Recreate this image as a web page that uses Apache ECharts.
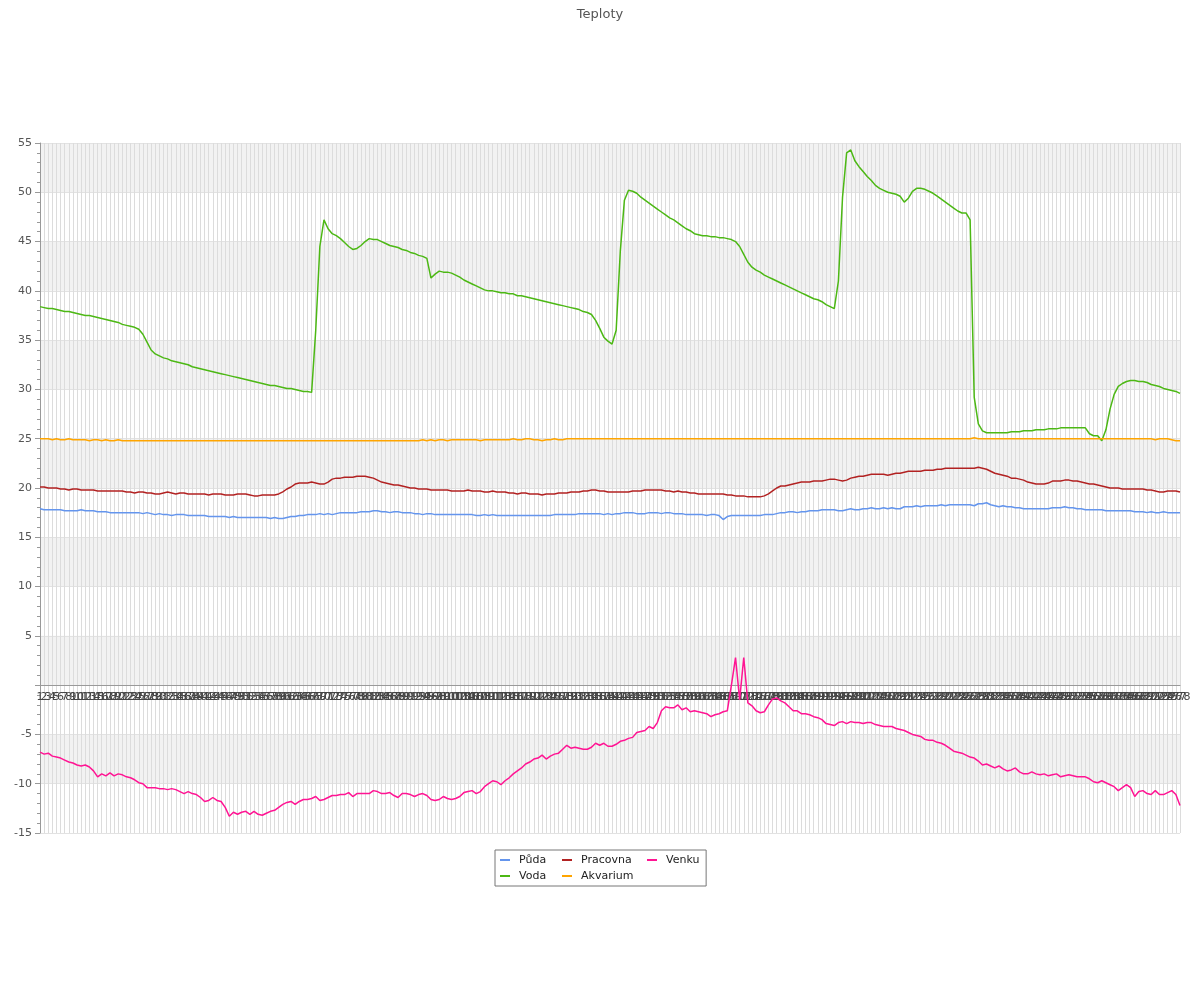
<!DOCTYPE html>
<html>
<head>
<meta charset="utf-8">
<script src="https://cdn.jsdelivr.net/npm/echarts@6/dist/echarts.min.js"></script>
<style>html,body{margin:0;padding:0;background:#fff}#c{width:1200px;height:1000px}</style>
</head>
<body>
<div id="c"></div>
<script>
const seriesNames = ['Půda', 'Voda', 'Pracovna', 'Akvarium', 'Venku'];
const seriesColors = ['#6495ED', '#4CB814', '#B22222', '#FFA500', '#FF1493'];

const puda = [
17.9,17.8,17.8,17.8,17.8,17.8, 17.7,17.7,17.7,17.7,17.8,17.7, 17.7,17.7,17.6,17.6,17.6,17.5,
17.5,17.5,17.5,17.5,17.5,17.5,17.5, 17.4,17.5,17.4,17.3,17.4,17.3, 17.3,17.2,17.3,17.3,17.3,17.2,
17.2,17.2,17.2,17.2,17.1,17.1, 17.1,17.1,17.1,17.0,17.1,17.0, 17.0,17.0,17.0,17.0,17.0,17.0,
17.0,16.9,17.0,16.9,16.9,17.0, 17.1,17.1,17.2,17.2,17.3,17.3, 17.3,17.4,17.3,17.4,17.3,17.4,
17.5,17.5,17.5,17.5,17.5,17.6, 17.6,17.6,17.7,17.7,17.6,17.6, 17.5,17.6,17.6,17.5,17.5,17.5,
17.4,17.4,17.3,17.4,17.4,17.3, 17.3,17.3,17.3,17.3,17.3,17.3, 17.3,17.3,17.3,17.2,17.2,17.3,
17.2,17.3,17.2,17.2,17.2,17.2, 17.2,17.2,17.2,17.2,17.2,17.2, 17.2,17.2,17.2,17.2,17.3,17.3,
17.3,17.3,17.3,17.3,17.4,17.4, 17.4,17.4,17.4,17.4,17.3,17.4, 17.3,17.4,17.4,17.5,17.5,17.5,
17.4,17.4,17.4,17.5,17.5,17.5, 17.4,17.5,17.5,17.4,17.4,17.4, 17.3,17.3,17.3,17.3,17.3,17.2,
17.3,17.3,17.2,16.8,17.1,17.2, 17.2,17.2,17.2,17.2,17.2,17.2, 17.2,17.3,17.3,17.3,17.4,17.5,
17.5,17.6,17.6,17.5,17.6,17.6, 17.7,17.7,17.7,17.8,17.8,17.8, 17.8,17.7,17.7,17.8,17.9,17.8,
17.8,17.9,17.9,18.0,17.9,17.9, 18.0,17.9,18.0,17.9,17.9,18.1, 18.1,18.1,18.2,18.1,18.2,18.2,
18.2,18.2,18.3,18.2,18.3,18.3, 18.3,18.3,18.3,18.3,18.2,18.4, 18.4,18.5,18.3,18.2,18.1,18.2,
18.1,18.1,18.0,18.0,17.9,17.9, 17.9,17.9,17.9,17.9,17.9,18.0, 18.0,18.0,18.1,18.0,18.0,17.9,
17.9,17.8,17.8,17.8,17.8,17.8, 17.7,17.7,17.7,17.7,17.7,17.7, 17.7,17.6,17.6,17.6,17.5,17.6,
17.5,17.5,17.6,17.5,17.5,17.5,17.5
];

const voda = [
38.4,38.3,38.2,38.2,38.1,38.0,37.9,37.9,37.8,37.7,
37.6,37.5,37.5,37.4,37.3,37.2,37.1,37.0,36.9,36.8,
36.6,36.5,36.4,36.3,36.1,35.6,34.8,34.0,33.6,33.4,
33.2,33.1,32.9,32.8,32.7,32.6,32.5,32.3,32.2,32.1,
32.0,31.9,31.8,31.7,31.6,31.5,31.4,31.3,31.2,31.1,
31.0,30.9,30.8,30.7,30.6,30.5,30.4,30.4,30.3,30.2,
30.1,30.1,30.0,29.9,29.8,29.8,29.7,36.0,44.5,47.2,
46.3,45.8,45.6,45.3,44.9,44.5,44.2,44.3,44.6,45.0,
45.3,45.2,45.2,45.0,44.8,44.6,44.5,44.4,44.2,44.1,
43.9,43.8,43.6,43.5,43.3,41.3,41.7,42.0,41.9,41.9,
41.8,41.6,41.4,41.1,40.9,40.7,40.5,40.3,40.1,40.0,
40.0,39.9,39.8,39.8,39.7,39.7,39.5,39.5,39.4,39.3,
39.2,39.1,39.0,38.9,38.8,38.7,38.6,38.5,38.4,38.3,
38.2,38.1,37.9,37.8,37.6,37.0,36.2,35.3,34.9,34.6,
36.0,44.0,49.2,50.2,50.1,49.9,49.5,49.2,48.9,48.6,
48.3,48.0,47.7,47.4,47.2,46.9,46.6,46.3,46.1,45.8,
45.7,45.6,45.6,45.5,45.5,45.4,45.4,45.3,45.2,45.0,
44.5,43.7,42.9,42.4,42.1,41.9,41.6,41.4,41.2,41.0,
40.8,40.6,40.4,40.2,40.0,39.8,39.6,39.4,39.2,39.1,
38.9,38.6,38.4,38.2,41.0,49.5,54.0,54.3,53.2,52.6,
52.1,51.6,51.2,50.7,50.4,50.2,50.0,49.9,49.8,49.6,
49.0,49.4,50.1,50.4,50.4,50.3,50.1,49.9,49.6,49.3,
49.0,48.7,48.4,48.1,47.9,47.9,47.2,29.2,26.5,25.8,
25.6,25.6,25.6,25.6,25.6,25.6,25.7,25.7,25.7,25.8,
25.8,25.8,25.9,25.9,25.9,26.0,26.0,26.0,26.1,26.1,
26.1,26.1,26.1,26.1,26.1,25.5,25.3,25.3,24.8,25.9,
28.0,29.5,30.3,30.6,30.8,30.9,30.9,30.8,30.8,30.7,
30.5,30.4,30.3,30.1,30.0,29.9,29.8,29.6
];

const pracovna = [
20.1,20.1,20.0,20.0,20.0,19.9, 19.9,19.8,19.9,19.9,19.8,19.8, 19.8,19.8,19.7,19.7,19.7,19.7,
19.7,19.7,19.7,19.6,19.6,19.5,19.6, 19.6,19.5,19.5,19.4,19.4,19.5, 19.6,19.5,19.4,19.5,19.5,19.4,
19.4,19.4,19.4,19.4,19.3,19.4, 19.4,19.4,19.3,19.3,19.3,19.4, 19.4,19.4,19.3,19.2,19.2,19.3,
19.3,19.3,19.3,19.4,19.6,19.9, 20.1,20.4,20.5,20.5,20.5,20.6, 20.5,20.4,20.4,20.6,20.9,21.0,
21.0,21.1,21.1,21.1,21.2,21.2, 21.2,21.1,21.0,20.8,20.6,20.5, 20.4,20.3,20.3,20.2,20.1,20.0,
20.0,19.9,19.9,19.9,19.8,19.8, 19.8,19.8,19.8,19.7,19.7,19.7, 19.7,19.8,19.7,19.7,19.7,19.6,
19.6,19.7,19.6,19.6,19.6,19.5, 19.5,19.4,19.5,19.5,19.4,19.4, 19.4,19.3,19.4,19.4,19.4,19.5,
19.5,19.5,19.6,19.6,19.6,19.7, 19.7,19.8,19.8,19.7,19.7,19.6, 19.6,19.6,19.6,19.6,19.6,19.7,
19.7,19.7,19.8,19.8,19.8,19.8, 19.8,19.7,19.7,19.6,19.7,19.6, 19.6,19.5,19.5,19.4,19.4,19.4,
19.4,19.4,19.4,19.4,19.3,19.3, 19.2,19.2,19.2,19.1,19.1,19.1, 19.1,19.2,19.4,19.7,20.0,20.2,
20.2,20.3,20.4,20.5,20.6,20.6, 20.6,20.7,20.7,20.7,20.8,20.9, 20.9,20.8,20.7,20.8,21.0,21.1,
21.2,21.2,21.3,21.4,21.4,21.4, 21.4,21.3,21.4,21.5,21.5,21.6, 21.7,21.7,21.7,21.7,21.8,21.8,
21.8,21.9,21.9,22.0,22.0,22.0, 22.0,22.0,22.0,22.0,22.0,22.1, 22.0,21.9,21.7,21.5,21.4,21.3,
21.2,21.0,21.0,20.9,20.8,20.6, 20.5,20.4,20.4,20.4,20.5,20.7, 20.7,20.7,20.8,20.8,20.7,20.7,
20.6,20.5,20.4,20.4,20.3,20.2, 20.1,20.0,20.0,20.0,19.9,19.9, 19.9,19.9,19.9,19.9,19.8,19.8,
19.7,19.6,19.6,19.7,19.7,19.7,19.6
];

const akvarium = [
25.0,25.0,25.0,24.9,25.0,24.9,24.9,25.0,24.9,24.9,
24.9,24.9,24.8,24.9,24.9,24.8,24.9,24.8,24.8,24.9,
24.8,24.8,24.8,24.8,24.8,24.8,24.8,24.8,24.8,24.8,
24.8,24.8,24.8,24.8,24.8,24.8,24.8,24.8,24.8,24.8,
24.8,24.8,24.8,24.8,24.8,24.8,24.8,24.8,24.8,24.8,
24.8,24.8,24.8,24.8,24.8,24.8,24.8,24.8,24.8,24.8,
24.8,24.8,24.8,24.8,24.8,24.8,24.8,24.8,24.8,24.8,
24.8,24.8,24.8,24.8,24.8,24.8,24.8,24.8,24.8,24.8,
24.8,24.8,24.8,24.8,24.8,24.8,24.8,24.8,24.8,24.8,
24.8,24.8,24.8,24.9,24.8,24.9,24.8,24.9,24.9,24.8,
24.9,24.9,24.9,24.9,24.9,24.9,24.9,24.8,24.9,24.9,
24.9,24.9,24.9,24.9,24.9,25.0,24.9,24.9,25.0,25.0,
24.9,24.9,24.8,24.9,24.9,25.0,24.9,24.9,25.0,25.0,
25.0,25.0,25.0,25.0,25.0,25.0,25.0,25.0,25.0,25.0,
25.0,25.0,25.0,25.0,25.0,25.0,25.0,25.0,25.0,25.0,
25.0,25.0,25.0,25.0,25.0,25.0,25.0,25.0,25.0,25.0,
25.0,25.0,25.0,25.0,25.0,25.0,25.0,25.0,25.0,25.0,
25.0,25.0,25.0,25.0,25.0,25.0,25.0,25.0,25.0,25.0,
25.0,25.0,25.0,25.0,25.0,25.0,25.0,25.0,25.0,25.0,
25.0,25.0,25.0,25.0,25.0,25.0,25.0,25.0,25.0,25.0,
25.0,25.0,25.0,25.0,25.0,25.0,25.0,25.0,25.0,25.0,
25.0,25.0,25.0,25.0,25.0,25.0,25.0,25.0,25.0,25.0,
25.0,25.0,25.0,25.0,25.0,25.0,25.0,25.1,25.0,25.0,
25.0,25.0,25.0,25.0,25.0,25.0,25.0,25.0,25.0,25.0,
25.0,25.0,25.0,25.0,25.0,25.0,25.0,25.0,25.0,25.0,
25.0,25.0,25.0,25.0,25.0,25.0,25.0,25.0,25.0,25.0,
25.0,25.0,25.0,25.0,25.0,25.0,25.0,25.0,25.0,25.0,
25.0,24.9,25.0,25.0,25.0,24.9,24.8,24.8
];

const venku = [
-6.8,-7.0,-6.9,-7.2,-7.3,-7.4,-7.6,-7.8,-7.9,-8.1,
-8.2,-8.1,-8.3,-8.7,-9.3,-9.0,-9.2,-8.9,-9.2,-9.0,
-9.1,-9.3,-9.4,-9.6,-9.9,-10.0,-10.4,-10.4,-10.4,-10.5,
-10.5,-10.6,-10.5,-10.6,-10.8,-11.0,-10.8,-11.0,-11.1,-11.4,
-11.8,-11.7,-11.4,-11.7,-11.8,-12.4,-13.3,-12.9,-13.1,-12.9,
-12.8,-13.1,-12.8,-13.1,-13.2,-13.0,-12.8,-12.7,-12.4,-12.1,
-11.9,-11.8,-12.1,-11.8,-11.6,-11.6,-11.5,-11.3,-11.7,-11.6,
-11.4,-11.2,-11.2,-11.1,-11.1,-10.9,-11.3,-11.0,-11.0,-11.0,
-11.0,-10.7,-10.8,-11.0,-11.0,-10.9,-11.2,-11.4,-11.0,-11.0,
-11.1,-11.3,-11.1,-11.0,-11.2,-11.6,-11.7,-11.6,-11.3,-11.5,
-11.6,-11.5,-11.3,-10.9,-10.8,-10.7,-11.0,-10.8,-10.3,-10.0,
-9.7,-9.8,-10.1,-9.7,-9.4,-9.0,-8.7,-8.4,-8.0,-7.8,
-7.5,-7.4,-7.1,-7.5,-7.2,-7.0,-6.9,-6.5,-6.1,-6.4,
-6.3,-6.4,-6.5,-6.5,-6.3,-5.9,-6.1,-5.9,-6.2,-6.2,
-6.0,-5.7,-5.6,-5.4,-5.3,-4.8,-4.7,-4.6,-4.2,-4.4,
-3.8,-2.6,-2.2,-2.3,-2.3,-2.0,-2.5,-2.3,-2.7,-2.6,
-2.7,-2.8,-2.9,-3.2,-3.0,-2.9,-2.7,-2.6,0.0,2.8,
-1.5,2.8,-1.8,-2.1,-2.6,-2.8,-2.7,-2.0,-1.4,-1.3,
-1.6,-1.8,-2.2,-2.6,-2.6,-2.9,-2.9,-3.0,-3.2,-3.3,
-3.5,-3.9,-4.0,-4.1,-3.8,-3.7,-3.9,-3.7,-3.8,-3.8,
-3.9,-3.8,-3.8,-4.0,-4.1,-4.2,-4.2,-4.2,-4.4,-4.5,
-4.6,-4.8,-5.0,-5.1,-5.2,-5.5,-5.6,-5.6,-5.8,-5.9,
-6.1,-6.4,-6.7,-6.8,-6.9,-7.1,-7.3,-7.4,-7.7,-8.1,
-8.0,-8.2,-8.4,-8.2,-8.5,-8.7,-8.6,-8.4,-8.8,-9.0,
-9.0,-8.8,-9.0,-9.1,-9.0,-9.2,-9.1,-9.0,-9.3,-9.2,
-9.1,-9.2,-9.3,-9.3,-9.3,-9.5,-9.8,-9.9,-9.7,-9.9,
-10.1,-10.3,-10.7,-10.4,-10.1,-10.4,-11.3,-10.8,-10.7,-11.0,
-11.1,-10.7,-11.1,-11.1,-10.9,-10.7,-11.1,-12.2
];

const categories = [];
for (let i = 1; i <= voda.length; i++) categories.push(String(i));

const legendColumns = [['Půda', 'Voda'], ['Pracovna', 'Akvarium'], ['Venku']];

const FONT = 'DejaVu Sans';
const chart = echarts.init(document.getElementById('c'), null, {renderer: 'canvas'});
const dataArr = [puda, voda, pracovna, akvarium, venku];

const legendBase = {
  orient: 'vertical',
  itemWidth: 10, itemHeight: 2, itemGap: 5,
  icon: 'rect',
  textStyle: {fontFamily: FONT, fontSize: 11, color: '#222', padding: [0, 0, 0, 4]}
};

chart.setOption({
  animation: false,
  backgroundColor: '#ffffff',
  textStyle: {fontFamily: FONT},
  title: {
    text: 'Teploty', left: 'center', top: 3,
    textStyle: {fontFamily: FONT, fontSize: 13, fontWeight: 'normal', color: '#555'}
  },
  legend: [
    Object.assign({}, legendBase, {
      data: legendColumns[0], left: 495, top: 850,
      padding: [4.5, 160, 4.5, 5], borderColor: '#777', borderWidth: 1
    }),
    Object.assign({}, legendBase, {data: legendColumns[1], left: 562, top: 854.5, padding: 0}),
    Object.assign({}, legendBase, {data: legendColumns[2], left: 647, top: 854.5, padding: 0})
  ],
  grid: {left: 40, right: 20, top: 143, bottom: 167, containLabel: false},
  xAxis: {
    type: 'category', boundaryGap: false, data: categories,
    offset: -148,
    axisLine: {onZero: false, lineStyle: {color: '#999', width: 1}},
    axisTick: {show: false},
    axisLabel: {interval: 0, fontSize: 11, color: '#444', margin: 7},
    splitLine: {show: true, interval: 0, lineStyle: {color: '#dcdcdc', width: 1}}
  },
  yAxis: {
    type: 'value', min: -15, max: 55, interval: 5,
    axisLine: {show: true, lineStyle: {color: '#999'}},
    axisTick: {show: true, length: 5, lineStyle: {color: '#999'}},
    minorTick: {show: true, splitNumber: 5, length: 3, lineStyle: {color: '#999'}},
    axisLabel: {fontSize: 11, color: '#555', margin: 8, formatter: v => (v === 0 ? '' : String(v))},
    splitLine: {show: true, lineStyle: {color: '#e2e2e2'}},
    splitArea: {show: true, areaStyle: {color: ['rgba(255,255,255,0)', '#f2f2f2']}}
  },
  series: seriesNames.map((n, k) => ({
    name: n, type: 'line', data: dataArr[k], symbol: 'none',
    color: seriesColors[k],
    lineStyle: {width: 1.5, color: seriesColors[k]}
  }))
});
</script>
</body>
</html>
